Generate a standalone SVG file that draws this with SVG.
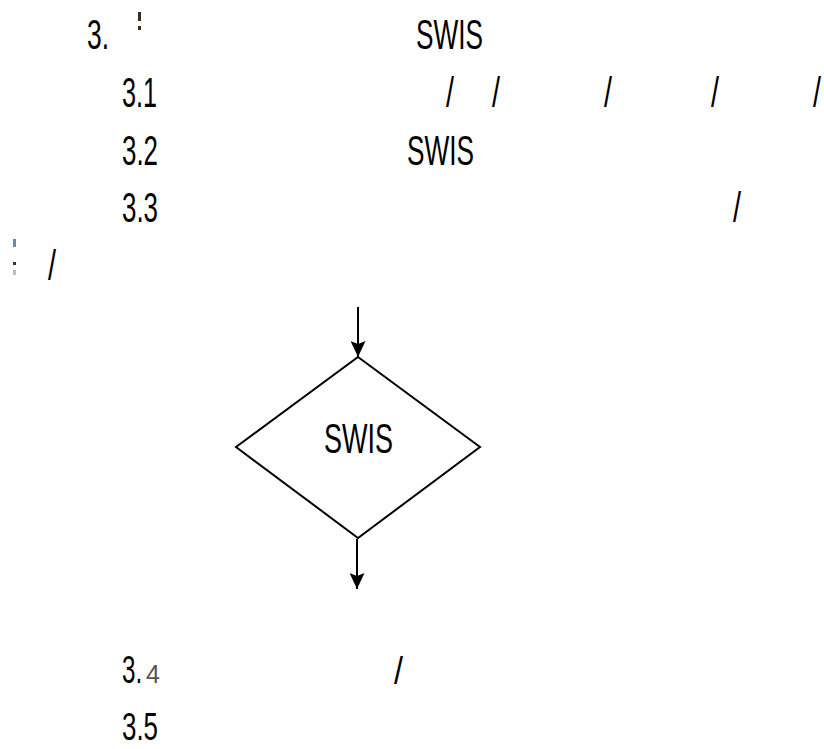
<svg xmlns="http://www.w3.org/2000/svg" width="824" height="749" viewBox="0 0 824 749">
<style>
.t{font-family:"Liberation Sans",Arial,sans-serif;font-size:42px;fill:#000}
.s{font-family:"Liberation Sans",Arial,sans-serif;font-size:39px;fill:#000}
.g{font-family:"Liberation Sans",Arial,sans-serif;font-size:25px;fill:#555}
.shape{fill:#fff;stroke:#000;stroke-width:2}
.conn{stroke:#000;stroke-width:2;fill:none}
</style>
<defs>
<marker id="arrow" markerUnits="userSpaceOnUse" markerWidth="16" markerHeight="15" viewBox="0 0 16 15" refX="16" refY="7.5" orient="auto">
<path d="M0,0 L16,7.5 L0,15 L3,7.5 z" fill="#000"/>
</marker>
</defs>
<rect width="824" height="749" fill="#fff"/>
<g id="heading">
<text class="t" x="87" y="49" textLength="22" lengthAdjust="spacingAndGlyphs">3.</text>
<rect x="138" y="12" width="3" height="9" fill="#3a2a20"/>
<rect x="138" y="26" width="3" height="4" fill="#3a2a20"/>
<text class="t" x="416" y="49" textLength="67" lengthAdjust="spacingAndGlyphs">SWIS</text>
</g>
<g id="item-3-1">
<text class="t" x="122" y="107" textLength="35" lengthAdjust="spacingAndGlyphs">3.1</text>
<text class="t" x="446" y="107" textLength="8" lengthAdjust="spacingAndGlyphs">/</text>
<text class="t" x="492" y="107" textLength="8" lengthAdjust="spacingAndGlyphs">/</text>
<text class="t" x="604" y="107" textLength="8" lengthAdjust="spacingAndGlyphs">/</text>
<text class="t" x="711" y="107" textLength="8" lengthAdjust="spacingAndGlyphs">/</text>
<text class="t" x="813" y="107" textLength="8" lengthAdjust="spacingAndGlyphs">/</text>
</g>
<g id="item-3-2">
<text class="t" x="122" y="165" textLength="36" lengthAdjust="spacingAndGlyphs">3.2</text>
<text class="t" x="407" y="165" textLength="67" lengthAdjust="spacingAndGlyphs">SWIS</text>
</g>
<g id="item-3-3">
<text class="t" x="122" y="222" textLength="36" lengthAdjust="spacingAndGlyphs">3.3</text>
<text class="t" x="733" y="222" textLength="8" lengthAdjust="spacingAndGlyphs">/</text>
</g>
<g id="item-3-3-cont">
<rect x="13" y="239" width="3" height="8" fill="#6f8aa0"/>
<rect x="13" y="262" width="3" height="3" fill="#333"/>
<rect x="13" y="270" width="3" height="5" fill="#bbb"/>
<text class="t" x="48" y="280" textLength="8" lengthAdjust="spacingAndGlyphs">/</text>
</g>
<g id="decision">
<polygon class="shape" points="358,357 480,447 358,538 236,447"/>
<text class="t" x="324" y="453" textLength="69" lengthAdjust="spacingAndGlyphs">SWIS</text>
</g>
<g id="connectors">
<line class="conn" x1="358" y1="307" x2="358" y2="357" marker-end="url(#arrow)"/>
<line class="conn" x1="357" y1="539" x2="357" y2="589" marker-end="url(#arrow)"/>
</g>
<g id="item-3-4">
<text class="s" transform="translate(122,683) scale(0.62,1)" x="0" y="0">3.</text>
<text class="g" x="146" y="683">4</text>
<text class="s" x="394" y="684" textLength="9" lengthAdjust="spacingAndGlyphs">/</text>
</g>
<g id="item-3-5">
<text class="s" x="122" y="740" textLength="36" lengthAdjust="spacingAndGlyphs">3.5</text>
</g>
</svg>
